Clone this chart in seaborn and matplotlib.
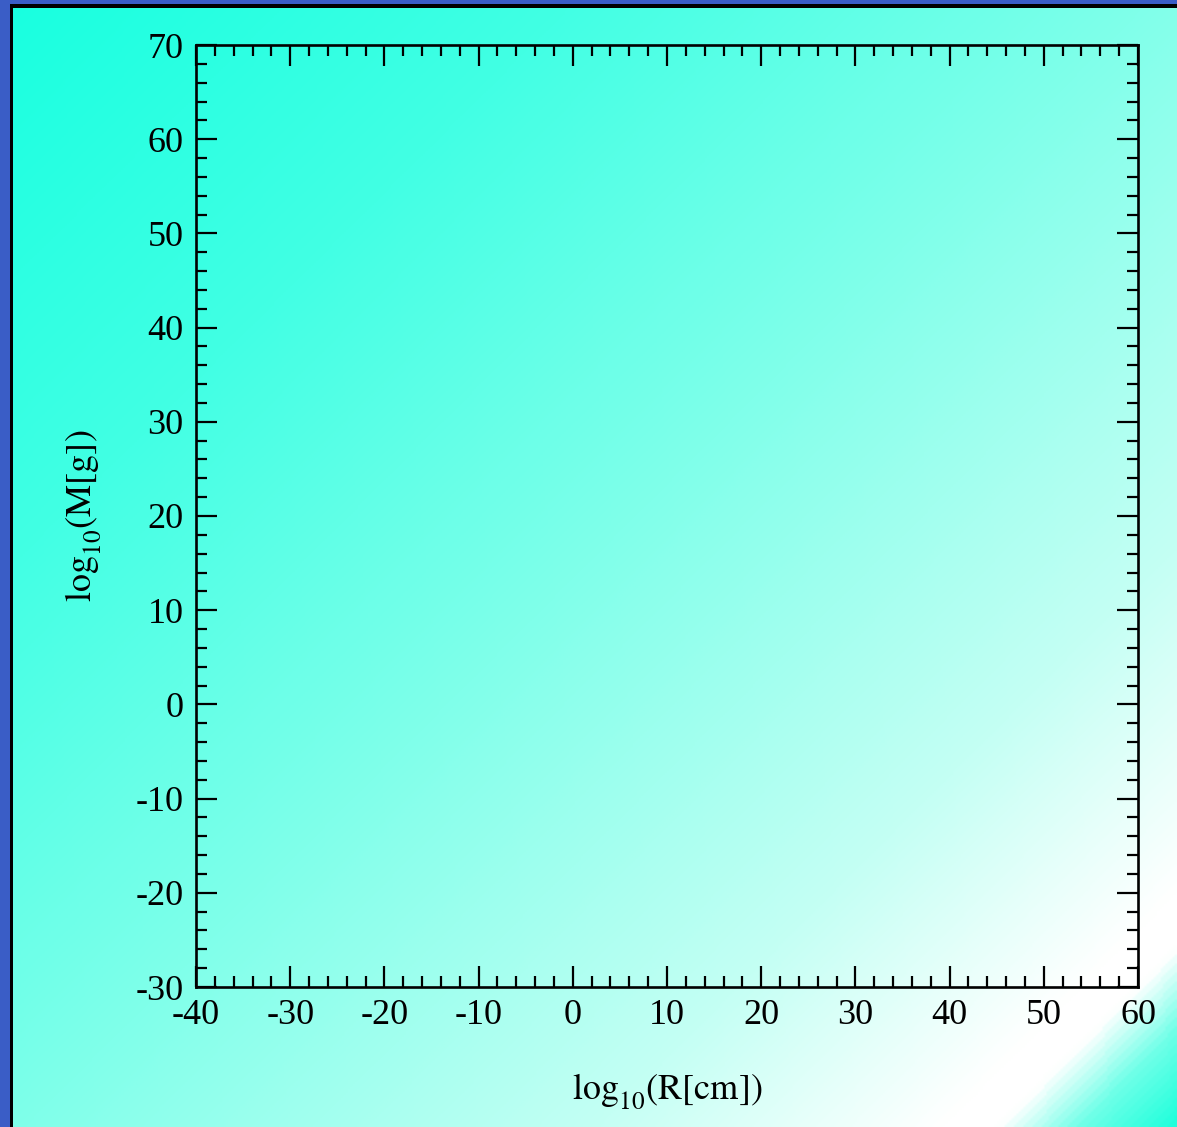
import numpy as np
import pandas as pd
import matplotlib
matplotlib.use("Agg")
import matplotlib.pyplot as plt
from matplotlib.patches import Rectangle
from matplotlib.colors import LinearSegmentedColormap
from matplotlib.ticker import MultipleLocator
import seaborn as sns

# Axis ranges and ticks (log10 of radius in cm, log10 of mass in g)
x_limits = [-40, 60]
y_limits = [-30, 70]
x_ticks = [-40, -30, -20, -10, 0, 10, 20, 30, 40, 50, 60]
y_ticks = [-30, -20, -10, 0, 10, 20, 30, 40, 50, 60, 70]
# an empty superscript pushes the "10" down to a deeper subscript position
x_label = r"$\mathrm{log_{10}^{\,}(R[cm])}$"
y_label = r"$\mathrm{log_{10}^{\,}(M[g])}$"

# Objects to plot (none on this diagram yet)
log_R = []
log_M = []

sns.set_theme(style="ticks")
plt.rcParams["font.family"] = ["Liberation Serif", "DejaVu Serif"]
plt.rcParams["mathtext.fontset"] = "stix"
plt.rcParams["axes.unicode_minus"] = False

W, H = 1177, 1127
fig = plt.figure(figsize=(W / 100, H / 100), dpi=100)

# Backdrop: blue frame, black rule, diagonal cyan-to-white gradient
bg = fig.add_axes([0, 0, 1, 1], zorder=-5)
bg.axis("off")
bg.add_patch(Rectangle((0, 0), W, H, color="#3a5dc6", lw=0, zorder=1))
bg.add_patch(Rectangle((10, 4), W, H, color="black", lw=0, zorder=2))
xx, yy = np.meshgrid(np.linspace(13, W, 500), np.linspace(8, H, 500))
t = (xx + yy) / (W + H)
grad = LinearSegmentedColormap.from_list(
    "bg",
    [(0.0, "#18ffe0"), (0.25, "#42ffe4"), (0.5, "#80ffea"),
     (0.75, "#c4fff4"), (0.9, "#ffffff"), (0.925, "#ffffff"),
     (0.96, "#70ffe8"), (1.0, "#20ffdc")],
)
bg.imshow(t, cmap=grad, vmin=0, vmax=1, extent=[13, W, H, 8],
          aspect="auto", interpolation="bilinear", zorder=3)
bg.set_xlim(0, W)
bg.set_ylim(H, 0)

ax = fig.add_axes([196 / W, 140 / H, 942 / W, 942 / H])
ax.set_facecolor("none")
sns.scatterplot(data=pd.DataFrame({"log_R": pd.Series(log_R, dtype=float),
                                   "log_M": pd.Series(log_M, dtype=float)}),
                x="log_R", y="log_M", ax=ax)

ax.set_xlim(*x_limits)
ax.set_ylim(*y_limits)
ax.set_xticks(x_ticks)
ax.set_yticks(y_ticks)
ax.xaxis.set_minor_locator(MultipleLocator(2))
ax.yaxis.set_minor_locator(MultipleLocator(2))
ax.tick_params(which="both", direction="in", top=True, right=True,
               color="black", width=1.6)
ax.tick_params(which="major", length=15, pad=9, labelsize=26, labelcolor="black")
ax.tick_params(which="minor", length=8)
for s in ax.spines.values():
    s.set_visible(True)
    s.set_color("black")
    s.set_linewidth(1.9)
ax.grid(False)

ax.set_xlabel(x_label, fontsize=26, color="black", labelpad=28)
ax.set_ylabel(y_label, fontsize=26, color="black", labelpad=23)

fig.savefig("out.png", dpi=100)
